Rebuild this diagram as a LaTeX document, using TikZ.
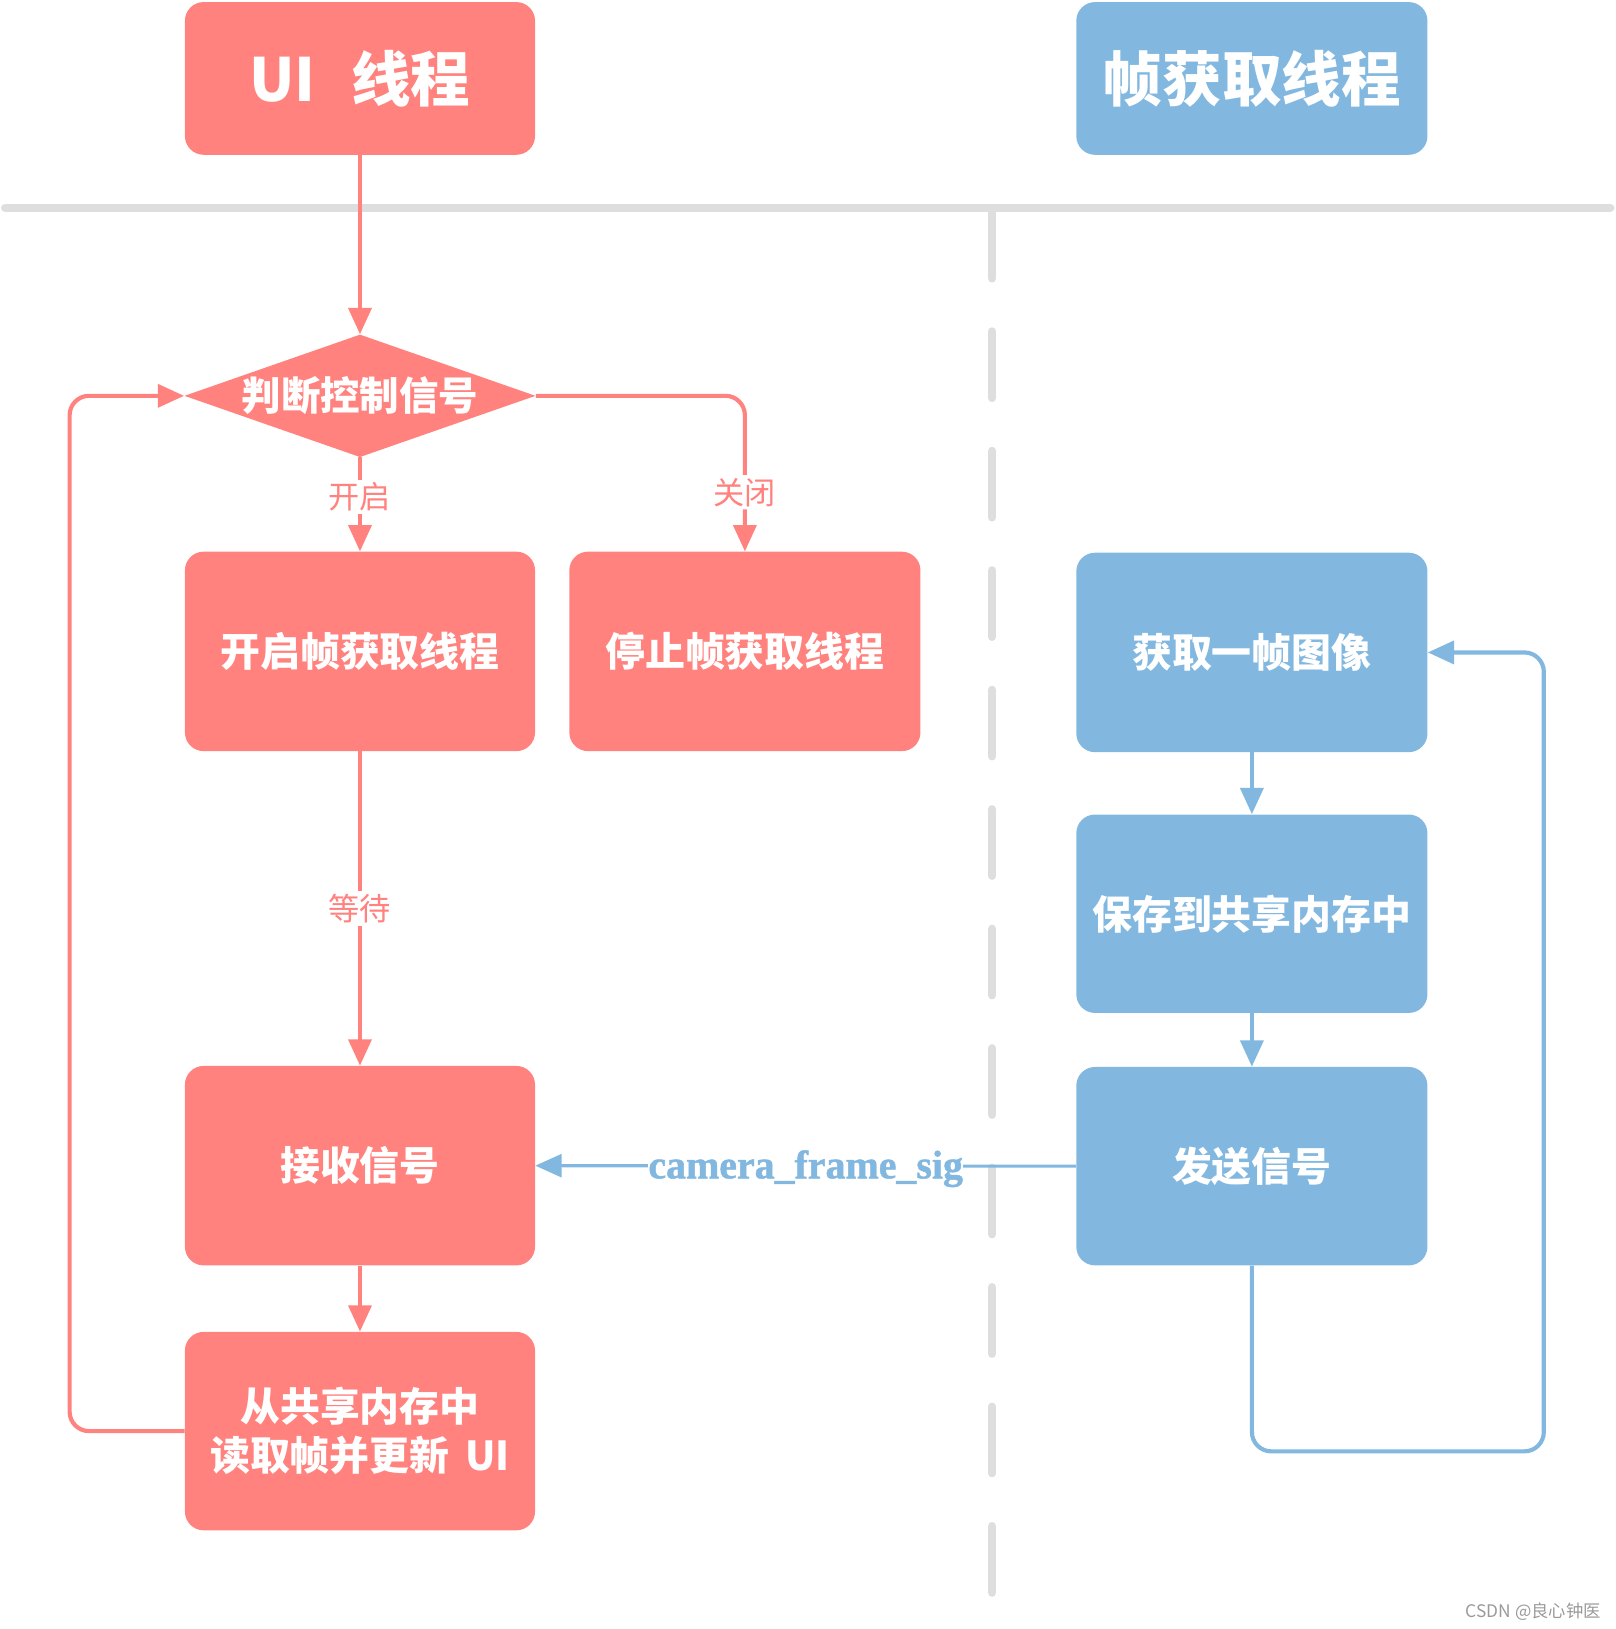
\documentclass[tikz,border=0pt]{standalone}
\usepackage{fontspec}
\setmainfont{Noto Sans CJK SC}
\newfontfamily\serifb{Liberation Serif}[UprightFont={* Bold}, UprightFeatures={FakeBold=1.2}]
\usetikzlibrary{arrows.meta,shapes.geometric}
\definecolor{sal}{HTML}{FF827E}
\definecolor{blu}{HTML}{82B8E0}
\definecolor{gry}{HTML}{DEDEDE}
\definecolor{wm}{HTML}{9A9A9A}
\begin{document}
\begin{tikzpicture}[x=0.75pt,y=-0.75pt,
  box/.style={rectangle, rounded corners=13.5pt, minimum width=252.75pt, minimum height=144pt,
    inner sep=0pt, text=white, align=center, font=\bfseries\fontsize{28.8}{35}\selectfont},
  rbox/.style={box, fill=sal},
  bbox/.style={box, fill=blu},
  hdr/.style={minimum height=110.25pt, font=\bfseries\fontsize{43}{50}\selectfont},
  rline/.style={draw=sal, line width=3pt},
  bline/.style={draw=blu, line width=3pt},
  arr/.style={-{Triangle[length=19pt,width=16.5pt]}},
  elab/.style={fill=white, text=sal, inner sep=2pt, font=\fontsize{22.5}{27}\selectfont},
  divider/.style={draw=gry, line width=6pt, line cap=round}
]
\useasboundingbox (0,0) rectangle (1555,1568);

% dividers
\draw[divider] (5,200) -- (1550,200);
\draw[divider, dash pattern=on 48pt off 38.25pt] (955,204) -- (955,1534);

% headers
\node[rbox, hdr] (ui) at (346.5,75.5) {UI\hspace{0.6em}线程};
\node[bbox, hdr, minimum width=253.5pt] (fr) at (1205,75.5) {帧获取线程};

% decision
\node[diamond, fill=sal, inner sep=0pt, minimum width=253.5pt, minimum height=88.5pt] (dec) at (346.5,381) {};
\node[text=white, inner sep=0pt, font=\bfseries\fontsize{28.5}{34}\selectfont] (dectxt) at (dec.center) {判断控制信号};

% UI thread boxes
\node[rbox] (start) at (346.5,627) {开启帧获取线程};
\node[rbox, minimum width=253.5pt] (stop) at (717,627) {停止帧获取线程};
\node[rbox] (recv) at (346.5,1122) {接收信号};
\node[rbox, minimum height=143.25pt] (read) at (346.5,1377.5) {从共享内存中\\读取帧并更新\hspace{0.4em}UI};

% frame thread boxes
\node[bbox, minimum width=253.5pt] (get) at (1205,628) {获取一帧图像};
\node[bbox, minimum width=253.5pt, minimum height=143.25pt] (save) at (1205,879.5) {保存到共享内存中};
\node[bbox, minimum width=253.5pt, minimum height=143.25pt] (send) at (1205,1122.5) {发送信号};

% UI connectors
\draw[rline, arr] (ui.south) -- (dec.north);
\draw[rline, arr] (dec.south) -- node[elab, pos=0.42] (lopen) {开启} (start.north);
\draw[rline, arr, rounded corners=14pt] (dec.east) -| node[elab, pos=0.81] (lclose) {关闭} (stop.north);
\draw[rline, arr] (start.south) -- node[elab, pos=0.5] (lwait) {等待} (recv.north);
\draw[rline, arr] (recv.south) -- (read.north);
\coordinate (uiL1) at (67,1377.5);
\coordinate (uiL2) at (67,381);
\draw[rline, arr, rounded corners=14pt] (read.west) -- (uiL1) -- (uiL2) -- (dec.west);

% frame connectors
\draw[bline, arr] (get.south) -- (save.north);
\draw[bline, arr] (save.south) -- (send.north);
\coordinate (frL1) at (1205,1397);
\coordinate (frL2) at (1486,1397);
\coordinate (frL3) at (1486,628);
\draw[bline, arr, rounded corners=14pt] (send.south) -- (frL1) -- (frL2) -- (frL3) -- (get.east);

% signal
\draw[draw=blu, line width=2.25pt, arr] (send.west) -- node[fill=white, inner sep=0pt, text=blu,
  font=\serifb\fontsize{28.8}{34}\selectfont, yshift=-2pt] (sig) {camera\_frame\_sig} (recv.east);

% watermark
\node[anchor=east, text=wm, inner sep=0pt, font=\fontsize{12.5}{15}\selectfont] (wmk) at (1541,1551) {CSDN @良心钟医};
\end{tikzpicture}
\end{document}
